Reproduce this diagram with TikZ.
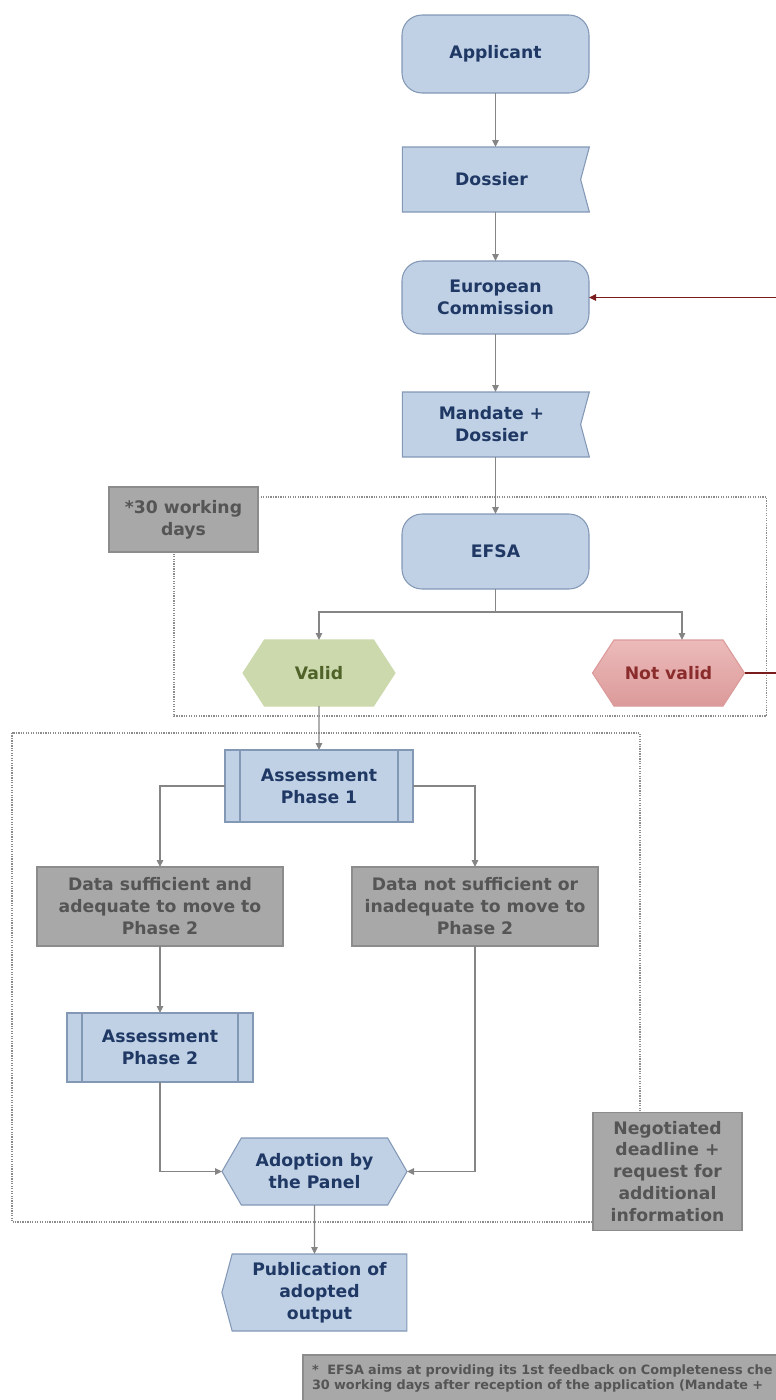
\documentclass[tikz,border=0pt]{standalone}
\usepackage{fontspec}
\setmainfont{DejaVu Sans}
\usepackage{xcolor}
\usetikzlibrary{calc,positioning,arrows.meta,shapes.symbols,backgrounds}
\definecolor{boxblue}{HTML}{C0D1E6}
\definecolor{edgeblue}{HTML}{8398B5}
\definecolor{textblue}{HTML}{1F3864}
\definecolor{boxgray}{HTML}{A8A8A8}
\definecolor{edgegray}{HTML}{8C8C8C}
\definecolor{textgray}{HTML}{555555}
\definecolor{validgreen}{HTML}{CCD9AD}
\definecolor{validtext}{HTML}{4F6228}
\definecolor{nvtop}{HTML}{ECBABA}
\definecolor{nvbottom}{HTML}{DC9A9A}
\definecolor{nvtext}{HTML}{8A2C2C}
\definecolor{linegray}{HTML}{858585}
\definecolor{backred}{HTML}{7B1C1C}
\definecolor{zonegray}{HTML}{8C8C8C}
\tikzset{
  line/.style     = {-{Triangle[length=1.4mm,width=1.3mm]}, line width=0.7pt, draw=linegray},
  backline/.style = {line, draw=backred},
  zone/.style     = {draw=zonegray, line width=0.65pt, dash pattern=on 0.7pt off 0.7pt},
  box/.style      = {draw=edgeblue, fill=boxblue, text=textblue, align=center, inner sep=2pt, outer sep=0pt,
                     line width=0.6pt, font=\fontsize{9.8}{12.5}\selectfont\bfseries},
  roundbox/.style = {box, rounded corners=4mm, minimum width=37.4mm, minimum height=15mm},
  flagbox/.style  = {box, signal, signal to=nowhere, signal from=east, signal pointer angle=150,
                     minimum width=37.4mm, minimum height=13mm, xshift=-0.8mm},
  procbox/.style  = {box, minimum width=37.6mm, minimum height=14.4mm,
                     path picture={\draw[edgeblue, line width=0.6pt]
                       ([xshift=3mm]path picture bounding box.north west) -- ([xshift=3mm]path picture bounding box.south west)
                       ([xshift=-3mm]path picture bounding box.north east) -- ([xshift=-3mm]path picture bounding box.south east);}},
  hexbox/.style   = {box, signal, signal to=east and west, signal pointer angle=114,
                     minimum width=30.4mm, minimum height=13.2mm},
  greybox/.style  = {box, draw=edgegray, fill=boxgray, text=textgray},
}

\begin{document}
\begin{tikzpicture}[x=1mm, y=1mm, node distance=10mm]
  \useasboundingbox (0,0) rectangle (155.2,-280);
  \clip (0,0) rectangle (155.2,-280);
  % main column
  \node[roundbox, minimum height=15.6mm] (app) at (99.1,-10.8) {Applicant};
  \node[flagbox, below=10.8mm of app] (dos) {Dossier};
  \node[roundbox, minimum height=14.6mm, below=9.8mm of dos.south -| app] (ec) {European\\Commission};
  \node[flagbox, below=11.6mm of ec] (mand) {Mandate +\\Dossier};
  \node[roundbox, below=11.4mm of mand.south -| app] (efsa) {EFSA};
  \node[greybox, minimum width=29.8mm, minimum height=13mm, left=28.8mm of efsa, yshift=6.4mm] (days) {*30 working\\days};
  \node[hexbox, draw=validgreen, fill=validgreen, text=validtext, below=10.2mm of efsa, xshift=-35.3mm] (valid) {Valid};
  \node[hexbox, draw=nvbottom, top color=nvtop, bottom color=nvbottom, text=nvtext, below=10.2mm of efsa, xshift=34.6mm] (notvalid) {Not valid};
  % assessment
  \node[procbox, below=8.8mm of valid] (ap1) {Assessment\\Phase 1};
  \node[greybox, minimum width=49.2mm, minimum height=15.8mm, below=9mm of ap1, xshift=-31.8mm] (dsuff) {Data sufficient and\\adequate to move to\\Phase 2};
  \node[greybox, minimum width=49.2mm, minimum height=15.8mm, below=9mm of ap1, xshift=31.2mm] (dnot) {Data not sufficient or\\inadequate to move to\\Phase 2};
  \node[procbox, minimum width=37.2mm, minimum height=13.8mm, below=13.4mm of dsuff] (ap2) {Assessment\\Phase 2};
  \node[hexbox, signal pointer angle=120, minimum width=37mm, minimum height=13.4mm, below=11.2mm of ap2, xshift=30.9mm] (adopt) {Adoption by\\the Panel};
  \node[box, signal, signal to=west, signal pointer angle=150, minimum width=37mm, minimum height=15.4mm, below=9.8mm of adopt, xshift=1mm] (pub) {Publication of\\adopted\\output};
  \node[greybox, minimum width=29.8mm, minimum height=23.6mm, right=37.2mm of adopt] (neg) {Negotiated\\deadline +\\request for\\additional\\information};
  \node[greybox, anchor=north west, text width=100mm, align=left, inner xsep=1.8mm, inner ysep=2mm,
        font=\fontsize{7.3}{8.5}\selectfont\bfseries] (note) at ([xshift=-3.3mm,yshift=-4.8mm]pub.south)
       {*\ \ EFSA aims at providing its 1st feedback on Completeness che\\30 working days after reception of the application (Mandate +};
  % dotted time frames
  \begin{scope}[on background layer]
    \draw[zone] ($(valid.west |- efsa.north)+(-13.8mm,3.4mm)$) rectangle ($(notvalid.east |- valid.south)+(4.4mm,-2mm)$);
    \draw[zone] ($(dsuff.west |- ap1.north)+(-5mm,3.4mm)$) rectangle ($(neg.west |- adopt.south)+(9.4mm,-3.4mm)$);
  \end{scope}
  % flow
  \draw[line] (app) -- (app |- dos.north);
  \draw[line] (app |- dos.south) -- (ec);
  \draw[line] (ec) -- (ec |- mand.north);
  \draw[line] (ec |- mand.south) -- (efsa);
  \draw[line] (efsa.south) -- ++(0,-4.6mm) -| (valid.north);
  \draw[line] (efsa.south) -- ++(0,-4.6mm) -| ([xshift=2.7mm]notvalid.north);
  \draw[backline] (notvalid.east) -- ++(8mm,0) |- (ec.east);
  \draw[line] (valid) -- (ap1);
  \draw[line] (ap1.west) -| (dsuff.north);
  \draw[line] (ap1.east) -| (dnot.north);
  \draw[line] (dsuff) -- (ap2);
  \draw[line] (ap2.south) |- (adopt.west);
  \draw[line] (dnot.south) |- (adopt.east);
  \draw[line] (adopt) -- (adopt |- pub.north);
\end{tikzpicture}
\end{document}
